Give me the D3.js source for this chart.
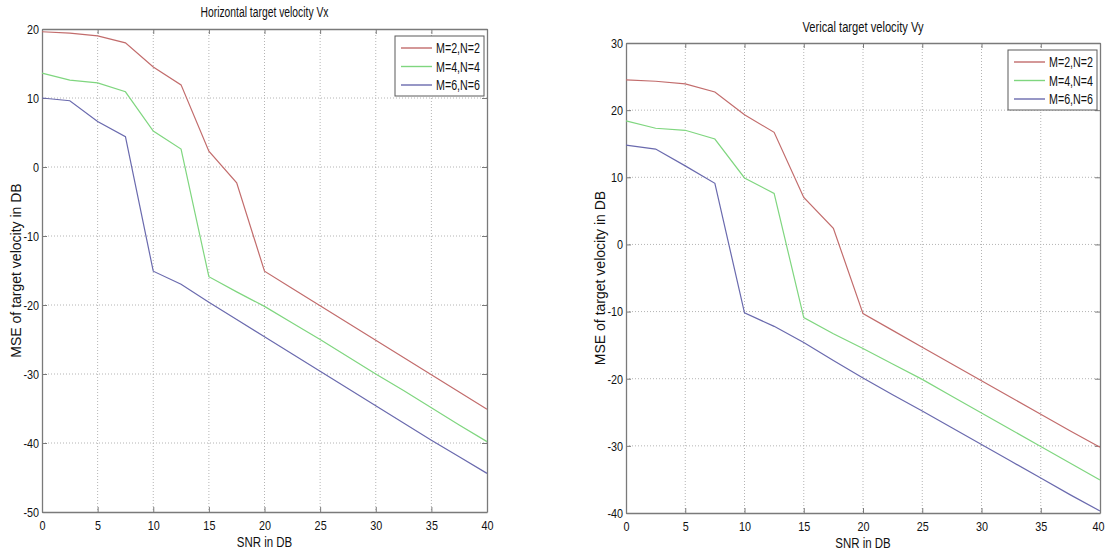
<!DOCTYPE html>
<html>
<head>
<meta charset="utf-8">
<script src="https://cdn.jsdelivr.net/npm/d3@7"></script>
<style>
  body { margin: 0; background: #fff; }
  svg { display: block; font-family: "Liberation Sans", Arial, sans-serif; }
</style>
</head>
<body>
<div id="chart"></div>
<script>
// SNR sample points (dB)
var snr = [0, 2.5, 5, 7.5, 10, 12.5, 15, 17.5, 20, 22.5, 25, 27.5, 30, 32.5, 35, 37.5, 40];

// horizontal velocity Vx, MSE in dB
var vxM2 = [19.6, 19.4, 19.0, 18.0, 14.5, 11.9, 2.3, -2.3, -15.1, -17.6, -20.1, -22.6, -25.1, -27.6, -30.1, -32.6, -35.1];
var vxM4 = [13.6, 12.6, 12.2, 10.9, 5.2, 2.6, -15.9, -18.1, -20.2, -22.6, -25.0, -27.5, -30.0, -32.4, -34.9, -37.4, -39.8];
var vxM6 = [10.0, 9.6, 6.6, 4.4, -15.1, -17.0, -19.6, -22.1, -24.6, -27.1, -29.6, -32.1, -34.6, -37.1, -39.6, -42.0, -44.4];

// vertical velocity Vy, MSE in dB
var vyM2 = [24.5, 24.3, 23.9, 22.7, 19.3, 16.7, 7.0, 2.4, -10.3, -12.8, -15.3, -17.8, -20.3, -22.8, -25.3, -27.8, -30.2];
var vyM4 = [18.4, 17.3, 17.0, 15.7, 9.9, 7.6, -10.9, -13.3, -15.5, -17.8, -20.1, -22.6, -25.1, -27.6, -30.1, -32.6, -35.1];
var vyM6 = [14.8, 14.2, 11.7, 9.1, -10.2, -12.2, -14.6, -17.3, -19.9, -22.4, -24.8, -27.3, -29.8, -32.3, -34.8, -37.3, -39.7];

var seriesNames = ["M=2,N=2", "M=4,N=4", "M=6,N=6"];
var seriesColors = ["#c26c6c", "#7fd67f", "#6a6aae"];

var xTicks = [0, 5, 10, 15, 20, 25, 30, 35, 40];
var vxTicks = [-50, -40, -30, -20, -10, 0, 10, 20];
var vyTicks = [-40, -30, -20, -10, 0, 10, 20, 30];

var W = 1107, H = 556;

var panels = [
  {title: "Horizontal target velocity Vx", series: [vxM2, vxM4, vxM6], yDomain: [-50, 20], yTicks: vxTicks,
   left: 42, right: 487, top: 29, bottom: 512, titleY: 17, titleW: 128},
  {title: "Verical target velocity Vy", series: [vyM2, vyM4, vyM6], yDomain: [-40, 30], yTicks: vyTicks,
   left: 626, right: 1100, top: 43, bottom: 513, titleY: 32, titleW: 121}
];

var svg = d3.select("#chart").append("svg")
  .attr("width", W)
  .attr("height", H);

// the picture is squeezed sideways, so squeeze horizontal text a bit
function squeeze(sel, f) {
  sel.each(function() {
    var len = this.getComputedTextLength();
    d3.select(this).attr("textLength", len * f).attr("lengthAdjust", "spacingAndGlyphs");
  });
}

var plain = function(d) { return String(d); };

panels.forEach(function(p) {
  var x = d3.scaleLinear().domain([0, 40]).range([p.left, p.right]);
  var y = d3.scaleLinear().domain(p.yDomain).range([p.bottom, p.top]);
  var g = svg.append("g");

  // grid
  g.selectAll(".vgrid").data(xTicks.slice(1, -1)).enter().append("line")
    .attr("x1", function(d) { return x(d); }).attr("x2", function(d) { return x(d); })
    .attr("y1", p.top).attr("y2", p.bottom)
    .style("stroke", "#b4b4b4").style("stroke-dasharray", "1,2");
  g.selectAll(".hgrid").data(p.yTicks.slice(1, -1)).enter().append("line")
    .attr("y1", function(d) { return y(d); }).attr("y2", function(d) { return y(d); })
    .attr("x1", p.left).attr("x2", p.right)
    .style("stroke", "#b4b4b4").style("stroke-dasharray", "1,2");

  // axes with inward ticks
  var xAx = g.append("g").attr("transform", "translate(0," + p.bottom + ")")
    .call(d3.axisBottom(x).tickValues(xTicks).tickFormat(plain).tickSizeInner(-5).tickSizeOuter(0).tickPadding(8));
  var yAx = g.append("g").attr("transform", "translate(" + p.left + ",0)")
    .call(d3.axisLeft(y).tickValues(p.yTicks).tickFormat(plain).tickSizeInner(-5).tickSizeOuter(0).tickPadding(3));
  g.append("g").attr("transform", "translate(0," + p.top + ")")
    .call(d3.axisTop(x).tickValues(xTicks).tickSizeInner(-5).tickSizeOuter(0).tickFormat(""));
  g.append("g").attr("transform", "translate(" + p.right + ",0)")
    .call(d3.axisRight(y).tickValues(p.yTicks).tickSizeInner(-5).tickSizeOuter(0).tickFormat(""));

  g.selectAll(".domain").style("stroke", "#7a7a7a").style("stroke-width", 1.3);
  g.selectAll(".tick line").style("stroke", "#7a7a7a");
  g.selectAll(".tick text").style("font-size", "13.5px").style("fill", "#111")
    .style("font-family", "'Liberation Sans', Arial, sans-serif");
  squeeze(xAx.selectAll(".tick text"), 0.8);
  squeeze(yAx.selectAll(".tick text"), 0.8);
  // keep the last label inside the page
  if (p.right > W - 10) {
    xAx.selectAll(".tick text").filter(function(d) { return d === 40; }).attr("dx", -2);
  }

  // lines
  var line = d3.line()
    .x(function(d, i) { return x(snr[i]); })
    .y(function(d) { return y(d); });
  p.series.forEach(function(s, k) {
    g.append("path").datum(s)
      .attr("d", line)
      .style("fill", "none")
      .style("stroke", seriesColors[k])
      .style("stroke-width", 1.2);
  });

  // title and labels
  g.append("text")
    .attr("x", (p.left + p.right) / 2).attr("y", p.titleY)
    .attr("text-anchor", "middle")
    .attr("textLength", p.titleW).attr("lengthAdjust", "spacingAndGlyphs")
    .style("font-size", "14px").style("fill", "#111")
    .text(p.title);

  var xl = g.append("text")
    .attr("x", (p.left + p.right) / 2).attr("y", p.bottom + 35)
    .attr("text-anchor", "middle")
    .style("font-size", "14px").style("fill", "#111")
    .text("SNR in DB");
  squeeze(xl, 0.82);

  g.append("text")
    .attr("transform", "translate(" + (p.left - 21) + "," + ((p.top + p.bottom) / 2) + ") rotate(-90)")
    .attr("text-anchor", "middle")
    .style("font-size", "14px").style("fill", "#111")
    .text("MSE of target velocity in DB");

  // legend
  var lx = p.right - 92, ly = p.top + 7;
  var leg = g.append("g").attr("transform", "translate(" + lx + "," + ly + ")");
  leg.append("rect")
    .attr("width", 89).attr("height", 60)
    .style("fill", "#fff").style("stroke", "#5a5a5a").style("stroke-width", 1);
  seriesNames.forEach(function(name, k) {
    var ry = 12 + k * 18.5;
    leg.append("line")
      .attr("x1", 6).attr("x2", 37).attr("y1", ry).attr("y2", ry)
      .style("stroke", seriesColors[k]).style("stroke-width", 1.4);
    leg.append("text")
      .attr("x", 41).attr("y", ry).attr("dy", "0.36em")
      .attr("textLength", 44).attr("lengthAdjust", "spacingAndGlyphs")
      .style("font-size", "14px").style("fill", "#111")
      .text(name);
  });
});
</script>
</body>
</html>
